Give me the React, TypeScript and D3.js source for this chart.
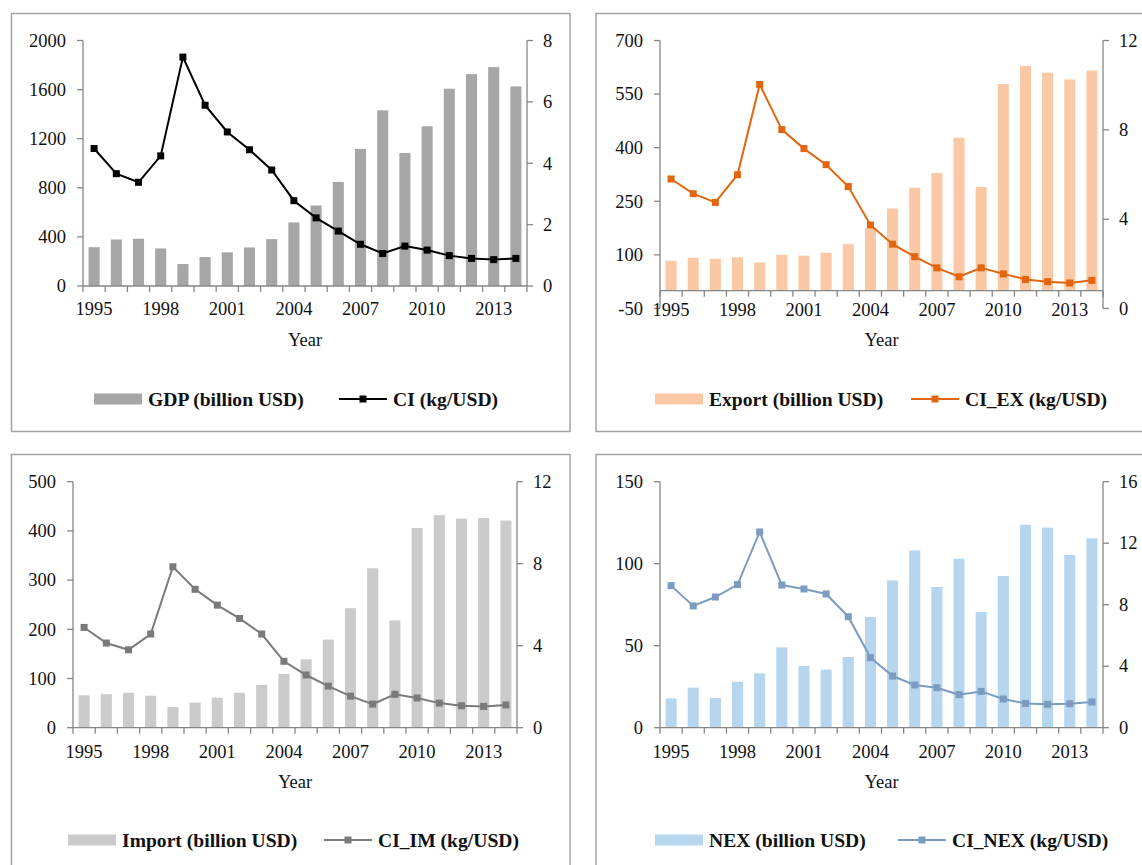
import React from "react";
import * as d3 from "d3";

const years = d3.range(1995, 2015).map(String);
const yearLabels = ["1995", "1998", "2001", "2004", "2007", "2010", "2013"];

const gdp = [316, 379, 385, 306, 179, 236, 274, 314, 382, 518, 656, 848, 1117, 1431, 1084, 1301, 1607, 1726, 1783, 1626];
const ci = [4.48, 3.66, 3.38, 4.24, 7.46, 5.89, 5.02, 4.44, 3.78, 2.78, 2.22, 1.79, 1.36, 1.06, 1.3, 1.17, 0.99, 0.9, 0.86, 0.9];

const exportVals = [84, 92, 89, 93, 79, 100, 98, 106, 130, 175, 230, 288, 329, 428, 290, 578, 629, 610, 591, 616];
const ciEx = [5.8, 5.14, 4.75, 5.99, 10.03, 8.01, 7.16, 6.44, 5.46, 3.74, 2.88, 2.32, 1.82, 1.42, 1.82, 1.55, 1.3, 1.2, 1.14, 1.26];

const importVals = [66, 68, 71, 65, 42, 51, 61, 71, 87, 109, 139, 179, 243, 324, 218, 406, 432, 425, 426, 421];
const ciIm = [4.89, 4.13, 3.8, 4.57, 7.85, 6.75, 5.98, 5.33, 4.57, 3.24, 2.57, 2.03, 1.54, 1.15, 1.63, 1.45, 1.2, 1.07, 1.04, 1.11];

const nex = [17.9, 24.4, 18.1, 28.0, 33.1, 49.0, 37.6, 35.4, 43.1, 67.5, 89.8, 108.1, 85.8, 103.0, 70.5, 92.5, 123.8, 122, 105.3, 115.4];
const ciNex = [9.24, 7.92, 8.5, 9.31, 12.73, 9.28, 9.02, 8.7, 7.22, 4.56, 3.36, 2.78, 2.6, 2.15, 2.36, 1.87, 1.58, 1.52, 1.56, 1.67];

const gdpTicks = [0, 400, 800, 1200, 1600, 2000];
const ciTicks = [0, 2, 4, 6, 8];
const exportTicks = [-50, 100, 250, 400, 550, 700];
const ciExTicks = [0, 4, 8, 12];
const importTicks = [0, 100, 200, 300, 400, 500];
const ciImTicks = [0, 4, 8, 12];
const nexTicks = [0, 50, 100, 150];
const ciNexTicks = [0, 4, 8, 12, 16];

const FONT = "'Liberation Serif', 'Times New Roman', serif";
const AXIS = "#868686";

type PanelProps = {
  box: [number, number, number, number];
  left: number; right: number; top: number; bottom: number;
  bars: number[]; line: number[];
  leftTicks: number[]; rightTicks: number[];
  barColor: string; lineColor: string;
  barLabel: string; lineLabel: string;
  legend: { rectX: number; lineX: number; y: number };
  xLabelY: number; yearY: number;
};

function Panel(p: PanelProps) {
  const x = d3.scaleBand<string>().domain(years).range([p.left, p.right]).paddingInner(0.5).paddingOuter(0.25);
  const step = x.step();
  const lmin = d3.min(p.leftTicks)!;
  const lmax = d3.max(p.leftTicks)!;
  const yL = d3.scaleLinear().domain([lmin, lmax]).range([p.bottom, p.top]);
  const yR = d3.scaleLinear().domain([0, d3.max(p.rightTicks)!]).range([p.bottom, p.top]);
  const axisY = yL(Math.max(0, lmin));
  const line = d3.line<number>().x((_, i) => x(years[i])! + x.bandwidth() / 2).y((d) => yR(d));
  const boundaries = d3.range(0, years.length + 1).map((i) => p.left + i * step);
  const [bx, by, bw, bh] = p.box;
  return (
    <g>
      <rect x={bx} y={by} width={bw} height={bh} fill="white" stroke="#a3a3a3" strokeWidth={1.5} />
      {p.bars.map((v, i) => (
        <rect key={i} x={x(years[i])} y={yL(Math.max(0, v))} width={x.bandwidth()} height={Math.abs(yL(v) - yL(0))} fill={p.barColor} />
      ))}
      <line x1={p.left} x2={p.left} y1={p.top} y2={p.bottom} stroke={AXIS} strokeWidth={1.3} />
      <line x1={p.right} x2={p.right} y1={p.top} y2={p.bottom} stroke={AXIS} strokeWidth={1.3} />
      {p.leftTicks.map((t) => (
        <g key={"l" + t}>
          <line x1={p.left - 6} x2={p.left} y1={yL(t)} y2={yL(t)} stroke={AXIS} strokeWidth={1.3} />
          <text x={p.left - 17} y={yL(t)} dy="0.34em" textAnchor="end" fontFamily={FONT} fontSize={18.5} fill="#111">{t}</text>
        </g>
      ))}
      {p.rightTicks.map((t) => (
        <g key={"r" + t}>
          <line x1={p.right} x2={p.right + 6} y1={yR(t)} y2={yR(t)} stroke={AXIS} strokeWidth={1.3} />
          <text x={p.right + 16} y={yR(t)} dy="0.34em" textAnchor="start" fontFamily={FONT} fontSize={18.5} fill="#111">{t}</text>
        </g>
      ))}
      <line x1={p.left} x2={p.right} y1={axisY} y2={axisY} stroke={AXIS} strokeWidth={1.3} />
      {boundaries.map((bxp, i) => (
        <line key={"b" + i} x1={bxp} x2={bxp} y1={axisY} y2={axisY + 6} stroke={AXIS} strokeWidth={1.3} />
      ))}
      {yearLabels.map((yl) => (
        <text key={yl} x={x(yl)! + x.bandwidth() / 2} y={p.xLabelY} dy="0.34em" textAnchor="middle" fontFamily={FONT} fontSize={18.5} fill="#111">{yl}</text>
      ))}
      <text x={(p.left + p.right) / 2} y={p.yearY} dy="0.34em" textAnchor="middle" fontFamily={FONT} fontSize={18.5} fill="#111">Year</text>
      <path d={line(p.line)!} fill="none" stroke={p.lineColor} strokeWidth={2} />
      {p.line.map((v, i) => (
        <rect key={"m" + i} x={x(years[i])! + x.bandwidth() / 2 - 3.5} y={yR(v) - 3.5} width={7} height={7} fill={p.lineColor} />
      ))}
      <rect x={p.legend.rectX} y={p.legend.y - 5.5} width={48} height={11} fill={p.barColor} />
      <text x={p.legend.rectX + 54} y={p.legend.y} dy="0.34em" fontFamily={FONT} fontWeight="bold" fontSize={19.6} fill="#111">{p.barLabel}</text>
      <line x1={p.legend.lineX} x2={p.legend.lineX + 48} y1={p.legend.y} y2={p.legend.y} stroke={p.lineColor} strokeWidth={2} />
      <rect x={p.legend.lineX + 24 - 3.5} y={p.legend.y - 3.5} width={7} height={7} fill={p.lineColor} />
      <text x={p.legend.lineX + 54} y={p.legend.y} dy="0.34em" fontFamily={FONT} fontWeight="bold" fontSize={19.6} fill="#111">{p.lineLabel}</text>
    </g>
  );
}

export default function App() {
  return (
    <svg width={1142} height={865} style={{ position: "absolute", left: 0, top: 0, background: "white" }}>
      <Panel box={[11.5, 13.5, 558.5, 418]} left={83} right={527} top={40.5} bottom={286}
        bars={gdp} line={ci} leftTicks={gdpTicks} rightTicks={ciTicks}
        barColor="#a6a6a6" lineColor="#000000" barLabel="GDP (billion USD)" lineLabel="CI (kg/USD)"
        legend={{ rectX: 94, lineX: 339, y: 399 }} xLabelY={309} yearY={340} />
      <Panel box={[596, 13.5, 560, 418]} left={660} right={1103} top={40.5} bottom={308.5}
        bars={exportVals} line={ciEx} leftTicks={exportTicks} rightTicks={ciExTicks}
        barColor="#fbc8a5" lineColor="#e2650f" barLabel="Export (billion USD)" lineLabel="CI_EX (kg/USD)"
        legend={{ rectX: 655, lineX: 911, y: 399 }} xLabelY={310} yearY={340} />
      <Panel box={[11.5, 454.5, 558.5, 420]} left={73} right={517} top={481.7} bottom={727.7}
        bars={importVals} line={ciIm} leftTicks={importTicks} rightTicks={ciImTicks}
        barColor="#cbcbcb" lineColor="#7a7a7a" barLabel="Import (billion USD)" lineLabel="CI_IM (kg/USD)"
        legend={{ rectX: 68, lineX: 324, y: 840 }} xLabelY={752} yearY={782} />
      <Panel box={[596, 454.5, 560, 420]} left={660} right={1103} top={481.7} bottom={727.7}
        bars={nex} line={ciNex} leftTicks={nexTicks} rightTicks={ciNexTicks}
        barColor="#b5d6ee" lineColor="#7b9cc0" barLabel="NEX (billion USD)" lineLabel="CI_NEX (kg/USD)"
        legend={{ rectX: 655, lineX: 898, y: 840 }} xLabelY={752} yearY={782} />
    </svg>
  );
}
